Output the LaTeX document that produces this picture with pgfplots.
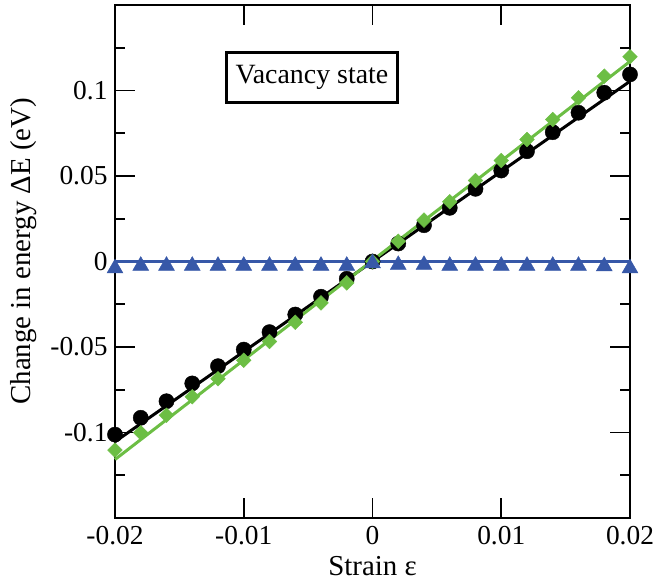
\documentclass[border=0pt]{standalone}
\usepackage{fontspec}
\setmainfont{Liberation Serif}
\usepackage{pgfplots}
\pgfplotsset{compat=1.18}
\definecolor{gx}{RGB}{108,190,68}
\definecolor{bx}{RGB}{55,88,168}
\begin{document}
\begin{tikzpicture}
\begin{axis}[
  at={(0,0)}, anchor=south west,
  scale only axis, width=515bp, height=513bp,
  xmin=-0.02, xmax=0.02, ymin=-0.15, ymax=0.15,
  scaled x ticks=false, scaled y ticks=false,
  xtick={-0.02,-0.01,0,0.01,0.02},
  xticklabels={-0.02,-0.01,0,0.01,0.02},
  ytick={-0.1,-0.05,0,0.05,0.1},
  yticklabels={-0.1,-0.05,0,0.05,0.1},
  minor ytick={-0.125,-0.075,-0.025,0.025,0.075,0.125},
  tick align=inside,
  major tick length=20bp, minor tick length=10bp,
  every tick/.style={black, line width=1.6bp},
  axis line style={line width=2bp},
  tick label style={font=\fontsize{27.5}{32}\selectfont},
  xticklabel style={yshift=-5bp},
  yticklabel style={xshift=-4bp},
  label style={font=\fontsize{29}{34}\selectfont},
  xlabel={Strain ε},
  ylabel={Change in energy ΔE (eV)},
  xlabel style={at={(axis description cs:0.5,-0.094)}, anchor=center},
  ylabel style={at={(axis description cs:-0.178,0.52)}, anchor=center},
  clip=false,
  /pgf/number format/assume math mode=true,
]
% fit lines
\addplot[black, line width=3bp, no marks] coordinates {(-0.02,-0.1054) (0.02,0.1054)};
\addplot[black, only marks, mark=*, mark size=7.6bp] coordinates {
(-0.020,-0.1012) (-0.018,-0.0914) (-0.016,-0.0817) (-0.014,-0.0713) (-0.012,-0.0612)
(-0.010,-0.0515) (-0.008,-0.0413) (-0.006,-0.0310) (-0.004,-0.0206) (-0.002,-0.0101)
(0.000,0.0000) (0.002,0.0105) (0.004,0.0212) (0.006,0.0314) (0.008,0.0425)
(0.010,0.0532) (0.012,0.0645) (0.014,0.0756) (0.016,0.0870) (0.018,0.0987) (0.020,0.1094)};
\addplot[gx, line width=3bp, no marks] coordinates {(-0.02,-0.1158) (0.02,0.1170)};
\addplot[gx, only marks, mark=square*, mark size=5.2bp, mark options={rotate=45, fill=gx, draw=gx}] coordinates {
(-0.020,-0.1103) (-0.018,-0.1002) (-0.016,-0.0899) (-0.014,-0.0791) (-0.012,-0.0686)
(-0.010,-0.0577) (-0.008,-0.0468) (-0.006,-0.0355) (-0.004,-0.0242) (-0.002,-0.0125)
(0.000,0.0000) (0.002,0.0119) (0.004,0.0242) (0.006,0.0349) (0.008,0.0474)
(0.010,0.0591) (0.012,0.0713) (0.014,0.0830) (0.016,0.0957) (0.018,0.1084) (0.020,0.1197)};
\addplot[bx, line width=3bp, no marks] coordinates {(-0.02,0) (0.02,0)};
\addplot[bx, only marks, mark=triangle*, mark size=9.2bp, mark options={fill=bx, draw=bx}] coordinates {
(-0.020,-0.0040) (-0.018,-0.0025) (-0.016,-0.0025) (-0.014,-0.0025) (-0.012,-0.0025)
(-0.010,-0.0025) (-0.008,-0.0025) (-0.006,-0.0025) (-0.004,-0.0025) (-0.002,-0.0025)
(0.000,-0.0010) (0.002,-0.0020) (0.004,-0.0020) (0.006,-0.0025) (0.008,-0.0025)
(0.010,-0.0025) (0.012,-0.0025) (0.014,-0.0025) (0.016,-0.0025) (0.018,-0.0028) (0.020,-0.0040)};
\node[draw=black, line width=2.8bp, fill=white, minimum width=171bp, minimum height=50bp,
  inner sep=0pt, font=\fontsize{28}{33}\selectfont] at (axis cs:-0.0047,0.1076) {Vacancy state};
\end{axis}
\pgfresetboundingbox
\path[use as bounding box] (-115bp,-70bp) rectangle (540bp,518bp);
\end{tikzpicture}
\end{document}
